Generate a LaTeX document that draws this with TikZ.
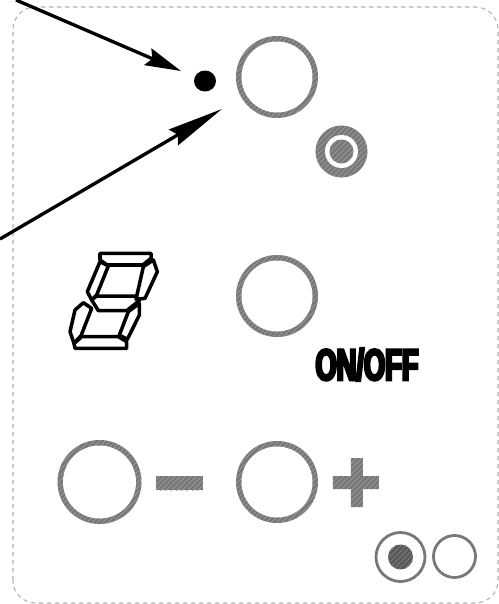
\documentclass[tikz,border=0pt]{standalone}
\usepackage{fontspec}
\usepackage{xcolor}
\usepackage{tikz}
\usetikzlibrary{arrows.meta, patterns}
\newfontfamily\onofffont[BoldFeatures={FakeBold=6,FakeStretch=0.62}]{Liberation Sans}
\definecolor{pgray}{HTML}{787878}
\definecolor{phatch}{HTML}{9C9C9C}
\definecolor{pdash}{HTML}{B0B0B0}
\tikzset{
  hatched/.style={preaction={fill=pgray}, pattern=north east lines, pattern color=phatch},
  darkhatched/.style={preaction={fill=black!65}, pattern=north east lines, pattern color=gray},
  pointer/.style={line width=1.9pt, -{Stealth[length=#1, width=0.36cm, inset=0.1cm]}},
}

\begin{document}
\begin{tikzpicture}[x=1cm, y=1cm]
  \useasboundingbox (0,0) rectangle (9.98,12.08);

  %% Panel outline
  \draw[pdash, line width=0.6pt, dash pattern=on 0.09cm off 0.07cm, rounded corners=0.45cm]
    (0.26,0.02) rectangle (9.96,11.94);

  %% Pointers
  \coordinate (pointerastart) at (0.32,12.08);
  \coordinate (pointeratip) at (3.62,10.66);
  \coordinate (pointerbstart) at (0,7.30);
  \coordinate (pointerbtip) at (4.44,9.90);
  \draw[pointer=0.72cm] (pointerastart) -- (pointeratip);
  \draw[pointer=1.12cm] (pointerbstart) -- (pointerbtip);
  \fill[black] (4.10,10.46) ellipse (0.22 and 0.21);

  %% Push buttons
  \foreach \x/\y/\r in {5.54/10.54/0.82, 5.54/6.16/0.82, 1.99/2.44/0.84, 5.54/2.44/0.82}{
    \path[hatched] (\x,\y) circle (\r);
    \fill[white] (\x,\y) circle ({\r-0.11});
  }

  %% Upper lamp
  \path[hatched] (6.83,9.05) circle (0.52);
  \fill[white] (6.83,9.05) circle (0.33);
  \path[hatched] (6.83,9.05) circle (0.24);

  %% Seven segment digit
  \begin{scope}[shift={(1cm,7.28cm)}, x=0.00667cm, y=-0.00667cm, line width=2pt, line join=round]
    \draw (150,40) -- (303,40) -- (303,55) -- (278,75) -- (172,75) -- (150,60) -- cycle;
    \draw (310,60) -- (322,95) -- (285,175) -- (258,178) -- (280,80) -- cycle;
    \draw (150,65) -- (175,78) -- (140,165) -- (125,180) -- (112,155) -- cycle;
    \draw (125,180) -- (140,168) -- (255,168) -- (268,182) -- (230,212) -- (145,212) -- cycle;
    \draw (100,188) -- (125,205) -- (90,295) -- (72,310) -- (60,275) -- (75,210) -- cycle;
    \draw (268,190) -- (268,225) -- (232,298) -- (208,285) -- (235,215) -- cycle;
    \draw (72,310) -- (90,290) -- (205,290) -- (230,305) -- (230,325) -- (75,325) -- cycle;
  \end{scope}

  %% Button labels
  \node[font=\onofffont\fontsize{25}{25}\selectfont\bfseries, inner sep=0pt] (onoff) at (7.34,4.79) {ON/OFF};
  \path[hatched] (3.12,2.56) rectangle (4.06,2.28);
  \path[hatched] (6.66,2.56) -- (7.02,2.56) -- (7.02,2.92) -- (7.26,2.92) -- (7.26,2.56) -- (7.58,2.56)
    -- (7.58,2.30) -- (7.26,2.30) -- (7.26,1.94) -- (7.02,1.94) -- (7.02,2.30) -- (6.66,2.30) -- cycle;

  %% Lower lamps
  \draw[pgray, line width=1.6pt] (8.01,0.94) circle (0.49);
  \path[darkhatched] (8.01,0.94) circle (0.25);
  \draw[pgray, line width=1.6pt] (9.09,0.95) circle (0.42);

\end{tikzpicture}
\end{document}
